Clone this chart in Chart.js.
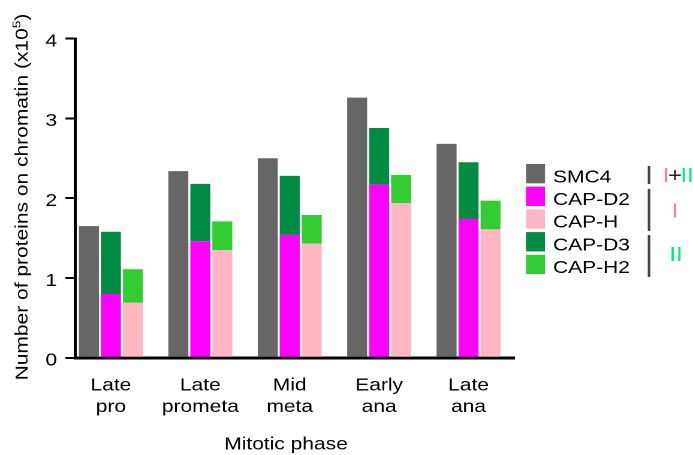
<!DOCTYPE html>
<html>
<head>
<meta charset="utf-8">
<script src="https://cdn.jsdelivr.net/npm/chart.js@4"></script>
<style>
  html, body { margin: 0; padding: 0; background: #fff; }
</style>
</head>
<body>
<canvas id="condensinChart" width="578" height="455" style="display:block;width:693px;height:455px"></canvas>
<script>
// values, in units of 10^5 proteins on chromatin
const phases = [['Late', 'pro'], ['Late', 'prometa'], ['Mid', 'meta'], ['Early', 'ana'], ['Late', 'ana']];
const smc4  = [1.65, 2.34, 2.50, 3.26, 2.68];
const capD2 = [0.80, 1.46, 1.54, 2.17, 1.74];
const capD3 = [0.78, 0.72, 0.74, 0.71, 0.71];   // stacked on CAP-D2
const capH  = [0.69, 1.35, 1.43, 1.94, 1.61];
const capH2 = [0.42, 0.36, 0.36, 0.35, 0.36];   // stacked on CAP-H
const yTicks = [0, 1, 2, 3, 4];

// the lettering in the original is wide, so the canvas is drawn narrow and css stretches it
const SX = 693 / 578;
const FONT = "'Liberation Sans', Arial, sans-serif";

const pts = arr => arr.map((v, i) => ({ x: i, y: v }));

// axis titles, legend and the I / II brackets
const extras = {
    id: 'extras',
    afterDraw(chart) {
        const ctx = chart.ctx;
        ctx.save();
        ctx.fillStyle = '#000';
        ctx.textBaseline = 'alphabetic';

        // x title
        ctx.font = '17.5px ' + FONT;
        ctx.textAlign = 'center';
        ctx.fillText('Mitotic phase', 286 / SX, 449.5);

        // y title (rotated, so undo the stretch across the glyphs)
        const main = 'Number of proteins on chromatin (x10';
        ctx.font = '17.5px ' + FONT;
        const wMain = ctx.measureText(main).width;
        const wClose = ctx.measureText(')').width;
        ctx.font = '11.5px ' + FONT;
        const wSup = ctx.measureText('5').width;
        const total = wMain + wSup + wClose;
        ctx.save();
        ctx.translate(27.5 / SX, 197);
        ctx.rotate(-Math.PI / 2);
        ctx.scale(SX, 1 / SX);
        ctx.textAlign = 'left';
        let u = -total / 2;
        ctx.font = '17.5px ' + FONT;
        ctx.fillText(main, u, 0);
        u += wMain;
        ctx.font = '11.5px ' + FONT;
        ctx.fillText('5', u, -7);
        u += wSup;
        ctx.font = '17.5px ' + FONT;
        ctx.fillText(')', u, 0);
        ctx.restore();

        // legend
        ctx.textAlign = 'left';
        ctx.font = '17.5px ' + FONT;
        chart.data.datasets.forEach((ds, i) => {
            const top = 164 + i * 22.7;
            ctx.fillStyle = ds.backgroundColor;
            ctx.fillRect(526 / SX, top, 19 / SX, 19.3);
            ctx.fillStyle = '#000';
            ctx.fillText(ds.label, 553 / SX, top + 18.3);
        });

        // bracket lines
        ctx.strokeStyle = '#444';
        ctx.lineWidth = 2.5 / SX;
        [[166, 184], [189, 231], [235, 277]].forEach(([a, b]) => {
            ctx.beginPath();
            ctx.moveTo(649 / SX, a);
            ctx.lineTo(649 / SX, b);
            ctx.stroke();
        });

        // complex labels
        const pink = '#ff6fae', green = '#00ee78';
        ctx.font = '20px ' + FONT;
        ctx.textAlign = 'center';
        ctx.fillStyle = pink;  ctx.fillText('I', 666 / SX, 182);
        ctx.fillStyle = '#222'; ctx.fillText('+', 675 / SX, 182);
        ctx.fillStyle = green; ctx.fillText('II', 687 / SX, 182);
        ctx.fillStyle = pink;  ctx.fillText('I', 675 / SX, 217.5);
        ctx.fillStyle = green; ctx.fillText('II', 676 / SX, 261);
        ctx.restore();
    }
};

const chart = new Chart(document.getElementById('condensinChart'), {
    type: 'bar',
    data: {
        datasets: [
            { label: 'SMC4',   data: pts(smc4),  stack: 'smc', backgroundColor: '#666666' },
            { label: 'CAP-D2', data: pts(capD2), stack: 'd',   backgroundColor: '#ff00ff' },
            { label: 'CAP-H',  data: pts(capH),  stack: 'h',   backgroundColor: '#ffb6c1' },
            { label: 'CAP-D3', data: pts(capD3), stack: 'd',   backgroundColor: '#008b45' },
            { label: 'CAP-H2', data: pts(capH2), stack: 'h',   backgroundColor: '#32cd32' }
        ]
    },
    options: {
        responsive: false,
        devicePixelRatio: 2,
        animation: false,
        layout: { padding: { left: 0, right: 148.8, top: 38.6, bottom: 0 } },
        datasets: { bar: { categoryPercentage: 0.7375, barPercentage: 0.909, borderWidth: 0 } },
        plugins: { legend: { display: false }, tooltip: { enabled: false } },
        scales: {
            x: {
                type: 'linear',
                offset: false,
                min: -0.397,
                max: 4.515,
                afterBuildTicks: s => { s.ticks = phases.map((p, i) => ({ value: i })); },
                afterFit: s => { s.height = 97.2; },
                grid: { display: false, drawTicks: false },
                border: { display: true, color: '#000', width: 3 },
                ticks: {
                    autoSkip: false,
                    maxRotation: 0,
                    padding: 17,
                    color: '#000',
                    font: { family: FONT, size: 17.5, lineHeight: 1.23 },
                    callback: v => phases[Math.round(v)]
                }
            },
            y: {
                stacked: true,
                min: 0,
                max: 4,
                afterBuildTicks: s => { s.ticks = yTicks.map(v => ({ value: v })); },
                afterFit: s => { s.width = 62.9; },
                grid: { drawOnChartArea: false, color: '#000', lineWidth: 2, tickLength: 8.3 },
                border: { display: true, color: '#000', width: 2.5 },
                ticks: {
                    padding: 7,
                    labelOffset: 3,
                    color: '#000',
                    font: { family: FONT, size: 17.5 }
                }
            }
        }
    },
    plugins: [extras]
});
</script>
</body>
</html>
